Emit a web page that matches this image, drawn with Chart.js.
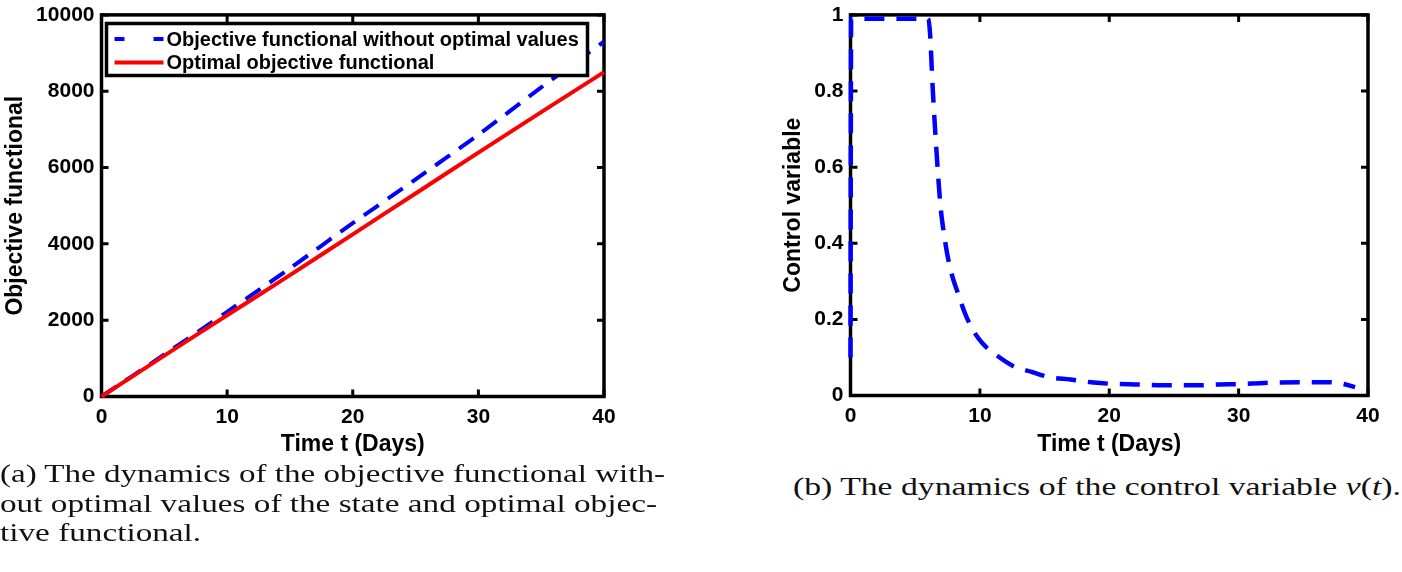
<!DOCTYPE html>
<html>
<head>
<meta charset="utf-8">
<script src="https://cdn.jsdelivr.net/npm/chart.js@4.4.1/dist/chart.umd.min.js"></script>
<style>
  body { margin: 0; width: 1402px; height: 572px; background: #fff; position: relative; overflow: hidden; }
  .box { position: absolute; top: 0; }
  .cap { position: absolute; font-family: "Liberation Serif", "Times New Roman", Times, serif; font-size: 25.5px; line-height: 30px; color: #111; white-space: nowrap; transform-origin: 0 50%; }
</style>
</head>
<body>
<div class="box" style="left:0"><canvas id="objChart" width="640" height="460"></canvas></div>
<div class="box" style="left:760px"><canvas id="ctrlChart" width="642" height="460"></canvas></div>

<div class="cap" data-w="665" style="left:0;top:459px">(a) The dynamics of the objective functional with-</div>
<div class="cap" data-w="657" style="left:0;top:489px">out optimal values of the state and optimal objec-</div>
<div class="cap" data-w="0" style="left:0;top:518px">tive functional.</div>
<div class="cap" data-w="608" style="left:793px;top:472px">(b) The dynamics of the control variable <i>ν</i>(<i>t</i>).</div>

<script>
// left panel: objective functional over time
const objTime = [0, 5, 10, 15, 20, 25, 30, 35, 40]
const objWithout = [0, 1100, 2220, 3360, 4540, 5690, 6860, 8100, 9300]
const objOptimal = [0, 1070, 2130, 3180, 4250, 5320, 6390, 7450, 8500]

// right panel: control variable v(t)
const ctrlTime = [0, 0.05, 6.0, 6.15, 6.35, 6.65, 6.95, 7.2, 7.6, 7.9, 8.4, 8.8, 9.4, 10.2, 11.4, 12.6, 14, 15.4, 17, 18.8, 20, 22, 25, 27, 28.5, 30, 32, 35, 37, 38, 39]
const ctrlValue = [0.1, 0.99, 0.99, 0.95, 0.81, 0.64, 0.5, 0.43, 0.35, 0.31, 0.26, 0.22, 0.176, 0.137, 0.103, 0.077, 0.062, 0.048, 0.042, 0.034, 0.031, 0.029, 0.027, 0.027, 0.029, 0.03, 0.033, 0.035, 0.035, 0.031, 0.022]

const xTicks = [0, 10, 20, 30, 40]
const objTicks = [0, 2000, 4000, 6000, 8000, 10000]
const ctrlTicks = [0, 0.2, 0.4, 0.6, 0.8, 1]

const FONT = "'Liberation Sans', Arial, Helvetica, sans-serif"

const toPoints = (xs, ys) => xs.map((x, i) => ({ x, y: ys[i] }))

// black box round the axes plus inward tick marks, like the matlab look
const framePlugin = {
  id: "frame",
  beforeDatasetsDraw(chart) {
    const { ctx, chartArea: a, scales } = chart
    ctx.save()
    ctx.strokeStyle = "#000"
    ctx.lineWidth = 3
    scales.x.ticks.forEach(t => {
      const px = scales.x.getPixelForValue(t.value)
      ctx.beginPath()
      ctx.moveTo(px, a.bottom); ctx.lineTo(px, a.bottom - 7)
      ctx.moveTo(px, a.top); ctx.lineTo(px, a.top + 7)
      ctx.stroke()
    })
    scales.y.ticks.forEach(t => {
      const py = scales.y.getPixelForValue(t.value)
      ctx.beginPath()
      ctx.moveTo(a.left, py); ctx.lineTo(a.left + 7, py)
      ctx.moveTo(a.right, py); ctx.lineTo(a.right - 7, py)
      ctx.stroke()
    })
    ctx.lineWidth = 3.5
    ctx.strokeRect(a.left, a.top, a.width, a.height)
    ctx.restore()
  }
}

// boxed legend in the upper part of the axes
const boxLegend = {
  id: "boxLegend",
  afterDatasetsDraw(chart, args, opts) {
    if (!opts.show) return
    const { ctx } = chart
    const [x, y, w, h] = opts.rect
    ctx.save()
    ctx.fillStyle = "#fff"
    ctx.fillRect(x, y, w, h)
    ctx.strokeStyle = "#000"
    ctx.lineWidth = 3.5
    ctx.strokeRect(x, y, w, h)
    ctx.font = "bold 20px " + FONT
    ctx.textBaseline = "middle"
    chart.data.datasets.forEach((ds, i) => {
      const ly = opts.rows[i]
      ctx.strokeStyle = ds.borderColor
      ctx.lineWidth = ds.borderWidth
      ctx.setLineDash(ds.borderDash && ds.borderDash.length ? [10, 29] : [])
      ctx.beginPath()
      ctx.moveTo(x + 8, ly)
      ctx.lineTo(x + 57, ly)
      ctx.stroke()
      ctx.setLineDash([])
      ctx.fillStyle = "#000"
      ctx.fillText(ds.label, x + 60, ly + 1)
    })
    ctx.restore()
  }
}

function axisOptions(o) {
  return {
    responsive: false,
    animation: false,
    layout: { padding: { top: o.padTop, right: o.padRight, left: 0, bottom: 0 } },
    plugins: {
      legend: { display: false },
      tooltip: { enabled: false },
      boxLegend: o.legend || { show: false }
    },
    elements: { point: { radius: 0 } },
    scales: {
      x: {
        type: "linear",
        min: 0,
        max: 40,
        afterBuildTicks: s => { s.ticks = xTicks.map(v => ({ value: v })) },
        ticks: { color: "#000", padding: 8, font: { family: FONT, size: 21, weight: "bold" } },
        grid: { display: false, drawTicks: false },
        border: { display: false },
        title: {
          display: true,
          text: "Time t (Days)",
          color: "#000",
          font: { family: FONT, size: 23, weight: "bold" },
          padding: { top: 0, bottom: 2 }
        },
        afterFit: s => { s.height = o.xHeight }
      },
      y: {
        min: o.yTicks[0],
        max: o.yTicks[o.yTicks.length - 1],
        afterBuildTicks: s => { s.ticks = o.yTicks.map(v => ({ value: v })) },
        ticks: {
          color: "#000",
          padding: 7,
          font: { family: FONT, size: 21, weight: "bold", lineHeight: 0.75 },
          callback: v => String(v)
        },
        grid: { display: false, drawTicks: false },
        border: { display: false },
        title: {
          display: true,
          text: o.yTitle,
          color: "#000",
          font: { family: FONT, size: 23, weight: "bold" },
          padding: { top: o.titlePad, bottom: 0 }
        },
        afterFit: s => { s.width = o.yWidth }
      }
    }
  }
}

new Chart(document.getElementById("objChart"), {
  type: "line",
  data: {
    datasets: [
      {
        label: "Objective functional without optimal values",
        data: toPoints(objTime, objWithout),
        borderColor: "#0000ff",
        borderWidth: 4,
        borderDash: [18, 11],
        tension: 0.3,
        clip: 8,
        order: 2
      },
      {
        label: "Optimal objective functional",
        data: toPoints(objTime, objOptimal),
        borderColor: "#ff0000",
        borderWidth: 4,
        tension: 0.3,
        clip: 8,
        order: 1
      }
    ]
  },
  options: axisOptions({
    padTop: 8.5, padRight: 36, xHeight: 63.5, yWidth: 101.5, titlePad: 1.5,
    yTicks: objTicks, yTitle: "Objective functional",
    legend: { show: true, rect: [106.5, 23.5, 481, 52], rows: [39, 62.5] }
  }),
  plugins: [framePlugin, boxLegend]
})

new Chart(document.getElementById("ctrlChart"), {
  type: "line",
  data: {
    datasets: [
      {
        label: "Control variable",
        data: toPoints(ctrlTime, ctrlValue),
        borderColor: "#0000ff",
        borderWidth: 4.5,
        borderDash: [20, 12],
        cubicInterpolationMode: "monotone",
        clip: 8
      }
    ]
  },
  options: axisOptions({
    padTop: 8, padRight: 34, xHeight: 64.5, yWidth: 90.5, titlePad: 19.5,
    yTicks: ctrlTicks, yTitle: "Control variable"
  }),
  plugins: [framePlugin, boxLegend]
})

// stretch the caption lines to the justified widths of the original
const caps = document.querySelectorAll(".cap")
let lastScale = 1
caps.forEach(el => {
  const target = Number(el.dataset.w)
  const scale = target ? target / el.getBoundingClientRect().width : lastScale
  el.style.transform = "scaleX(" + scale + ")"
  if (target) lastScale = scale
})
</script>
</body>
</html>
